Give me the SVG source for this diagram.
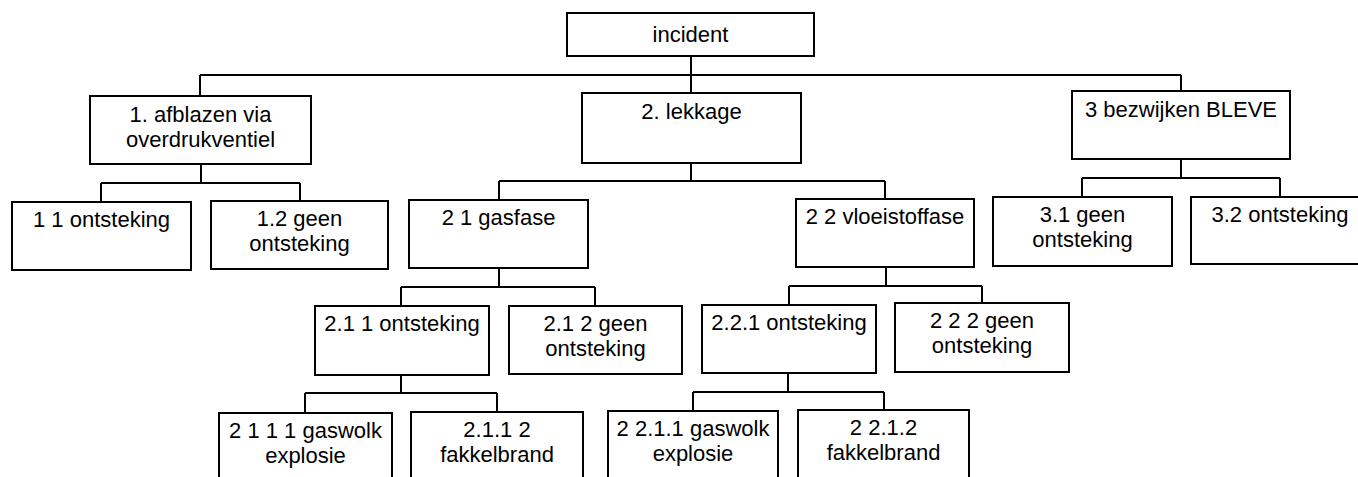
<svg xmlns="http://www.w3.org/2000/svg" width="1358" height="477" viewBox="0 0 1358 477">
<style>
.box{fill:#fff;stroke:#000;stroke-width:2}
.t{font-family:"Liberation Sans",Arial,sans-serif;font-size:22px;fill:#000;text-anchor:middle}
.c{fill:none;stroke:#000;stroke-width:2}
</style>
<rect width="1358" height="477" fill="#fff"/>
<g id="connectors" class="c">
<path d="M691 56V75M200 75H1181M200 75V96M691 75V93M1181 75V91"/>
<path d="M201 164V183M101 183H300M101 183V202M300 183V201"/>
<path d="M691 163V181M499 181H885M499 181V200M885 181V199"/>
<path d="M1181 159V178M1082 178H1280M1082 178V197M1280 178V197"/>
<path d="M499 268V287M401 287H595M401 287V306M595 287V306"/>
<path d="M886 267V286M789 286H982M789 286V305M982 286V303"/>
<path d="M401 375V393M305 393H497M305 393V413M497 393V412"/>
<path d="M788 373V392M693 392H884M693 392V411M884 392V410"/>
</g>
<g id="incident"><rect class="box" x="567" y="13" width="247" height="43"/><text class="t" x="690.5" y="42">incident</text></g>
<g id="n1"><rect class="box" x="90" y="96" width="221" height="68"/><text class="t" x="200.5" y="122">1. afblazen via</text><text class="t" x="200.5" y="147">overdrukventiel</text></g>
<g id="n2"><rect class="box" x="582" y="93" width="219" height="70"/><text class="t" x="691.5" y="119">2. lekkage</text></g>
<g id="n3"><rect class="box" x="1072" y="91" width="218" height="68"/><text class="t" x="1181" y="117">3 bezwijken BLEVE</text></g>
<g id="n11"><rect class="box" x="12" y="202" width="179" height="68"/><text class="t" x="101.5" y="227">1 1 ontsteking</text></g>
<g id="n12"><rect class="box" x="211" y="201" width="177" height="68"/><text class="t" x="299.5" y="226">1.2 geen</text><text class="t" x="299.5" y="251">ontsteking</text></g>
<g id="n21"><rect class="box" x="409" y="200" width="179" height="68"/><text class="t" x="498.5" y="225">2 1 gasfase</text></g>
<g id="n22"><rect class="box" x="796" y="199" width="178" height="68"/><text class="t" x="885" y="224">2 2 vloeistoffase</text></g>
<g id="n31"><rect class="box" x="993" y="197" width="179" height="69"/><text class="t" x="1082.5" y="222">3.1 geen</text><text class="t" x="1082.5" y="247">ontsteking</text></g>
<g id="n32"><rect class="box" x="1191" y="197" width="179" height="67"/><text class="t" x="1280" y="222">3.2 ontsteking</text></g>
<g id="n211"><rect class="box" x="315" y="306" width="174" height="69"/><text class="t" x="402" y="331">2.1 1 ontsteking</text></g>
<g id="n212"><rect class="box" x="509" y="306" width="173" height="68"/><text class="t" x="595.5" y="331">2.1 2 geen</text><text class="t" x="595.5" y="356">ontsteking</text></g>
<g id="n221"><rect class="box" x="702" y="305" width="174" height="68"/><text class="t" x="789" y="330">2.2.1 ontsteking</text></g>
<g id="n222"><rect class="box" x="895" y="303" width="174" height="69"/><text class="t" x="982" y="328">2 2 2 geen</text><text class="t" x="982" y="353">ontsteking</text></g>
<g id="n2111"><rect class="box" x="219" y="413" width="173" height="70"/><text class="t" x="305.5" y="438">2 1 1 1 gaswolk</text><text class="t" x="305.5" y="463">explosie</text></g>
<g id="n2112"><rect class="box" x="411" y="412" width="172" height="71"/><text class="t" x="497" y="437">2.1.1 2</text><text class="t" x="497" y="462">fakkelbrand</text></g>
<g id="n2211"><rect class="box" x="608" y="411" width="170" height="72"/><text class="t" x="693" y="436">2 2.1.1 gaswolk</text><text class="t" x="693" y="461">explosie</text></g>
<g id="n2212"><rect class="box" x="798" y="410" width="171" height="73"/><text class="t" x="883.5" y="435">2 2.1.2</text><text class="t" x="883.5" y="460">fakkelbrand</text></g>
</svg>
